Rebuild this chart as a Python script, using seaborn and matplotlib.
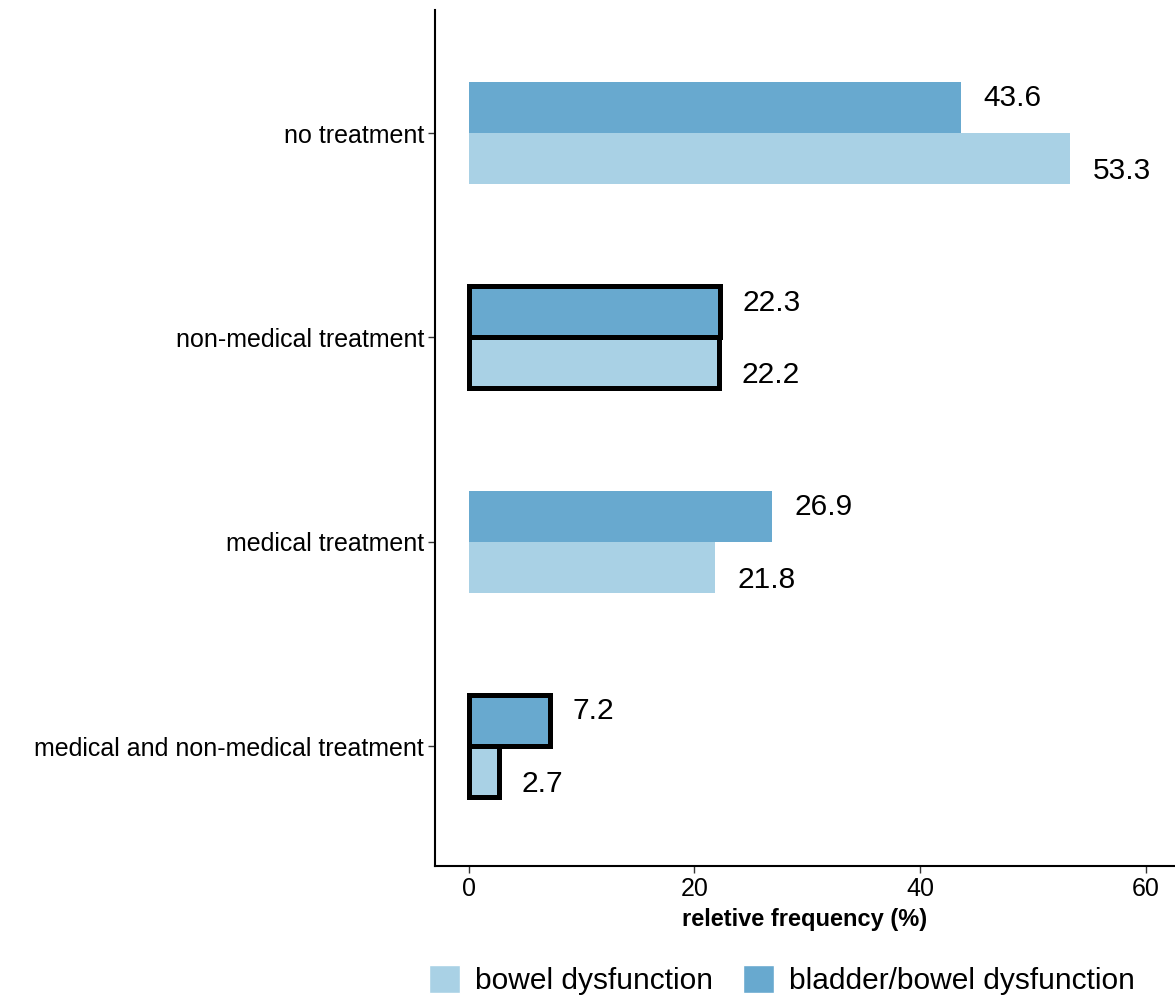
import pandas as pd
import matplotlib.pyplot as plt
import seaborn as sns
from matplotlib.patches import Patch

categories = ['no treatment', 'non-medical treatment', 'medical treatment',
              'medical and non-medical treatment']
bladder_bowel = [43.6, 22.3, 26.9, 7.2]
bowel = [53.3, 22.2, 21.8, 2.7]
groups = ['bladder/bowel dysfunction', 'bowel dysfunction']
outlined = ['non-medical treatment', 'medical and non-medical treatment']

colors = {'bowel dysfunction': '#a9d1e5', 'bladder/bowel dysfunction': '#68a9cf'}

data = pd.DataFrame({
    'treatment': categories * 2,
    'group': [groups[0]] * 4 + [groups[1]] * 4,
    'value': bladder_bowel + bowel,
})

sns.set_style('white')
plt.rcParams['font.family'] = ['Liberation Sans', 'DejaVu Sans']

fig = plt.figure(figsize=(11.75, 9.97), dpi=100)
ax = fig.add_axes([435 / 1175, 1 - 866 / 997, 1 - 435 / 1175, (866 - 10) / 997])

sns.barplot(data=data, y='treatment', x='value', hue='group', order=categories,
            hue_order=groups, palette=colors, width=0.5, orient='h',
            saturation=1, ax=ax, legend=False, linewidth=0)

for gi, cont in enumerate(ax.containers):
    for ci, bar in enumerate(cont):
        if categories[ci] in outlined:
            bar.set_edgecolor('black')
            bar.set_linewidth(3.6)
        val = bar.get_width()
        yc = bar.get_y() + bar.get_height() / 2
        yc += -0.045 if gi == 0 else 0.06
        ax.text(val + 2, yc, f'{val:.1f}', va='center', ha='left', fontsize=21.5,
                color='black')

ax.set_xlim(-3, 62.6)
ax.set_ylim(3.587, -0.602)
ax.set_xticks([0, 20, 40, 60])
ax.set_xlabel('reletive frequency (%)', fontsize=17, fontweight='bold', labelpad=5,
              color='black')
ax.set_ylabel('')
ax.tick_params(axis='both', length=5, width=1, color='#333333', labelsize=18,
               labelcolor='black', pad=3, left=True, bottom=True)
ax.tick_params(axis='x', labelsize=18, pad=3)
for s in ['top', 'right']:
    ax.spines[s].set_visible(False)
for s in ['left', 'bottom']:
    ax.spines[s].set_color('black')
    ax.spines[s].set_linewidth(1.5)

handles = [Patch(facecolor=colors[g], label=g) for g in ['bowel dysfunction', 'bladder/bowel dysfunction']]
fig.legend(handles=handles, loc='center', bbox_to_anchor=(782 / 1175, 1 - 980 / 997),
           ncol=2, frameon=False, fontsize=21.5, handlelength=1.05, handleheight=1.05,
           handletextpad=0.5, columnspacing=1.0, labelcolor='black')

fig.savefig('out.png', dpi=100)
